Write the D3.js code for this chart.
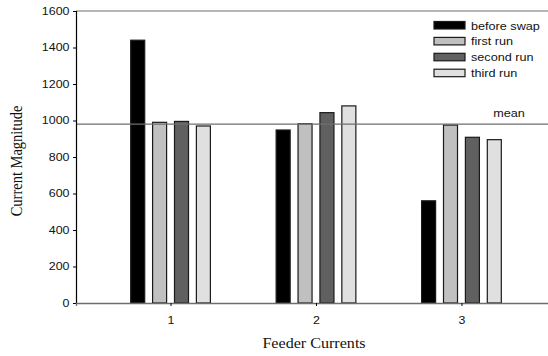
<!DOCTYPE html>
<html>
<head>
<meta charset="utf-8">
<script src="https://cdn.jsdelivr.net/npm/d3@7/dist/d3.min.js"></script>
<style>
  html, body { margin: 0; padding: 0; background: #fff; }
  svg { display: block; }
</style>
</head>
<body>
<svg id="chart" width="548" height="356"></svg>
<script>
// Feeder current magnitudes before and after phase swapping
const feeders = [1, 2, 3];
const series = ["before swap", "first run", "second run", "third run"];
const beforeSwap = [1440, 948, 560];
const firstRun   = [990, 982, 975];
const secondRun  = [995, 1043, 908];
const thirdRun   = [970, 1080, 895];
const meanValue  = 980;
const yTicks = [0, 200, 400, 600, 800, 1000, 1200, 1400, 1600];
const seriesColors = ["#000000", "#c0c0c0", "#606060", "#e0e0e0"];

const values = [beforeSwap, firstRun, secondRun, thirdRun];

const SANS = "Liberation Sans, Arial, sans-serif";
const SERIF = "Liberation Serif, Times New Roman, serif";
const WIDEN = 1.15; // glyphs are drawn slightly wide

const svg = d3.select("#chart");
const margin = { left: 76, top: 11, right: -8, bottom: 53 };
const W = 548, H = 356;
const x0 = margin.left, x1 = W - margin.right;
const y0 = H - margin.bottom, y1 = margin.top;

const x = d3.scaleLinear().domain([0.35, 3.65]).range([x0, x1]);
const y = d3.scaleLinear().domain([0, 1600]).range([y0, y1]);
const xSub = d3.scaleBand().domain(series).range([-43.8, 43.8])
  .paddingInner(0.36).paddingOuter(0.18);

function label(tx, ty, str, opts) {
  const o = Object.assign({ anchor: "start", size: 11, family: SANS, rotate: 0 }, opts);
  return svg.append("text")
    .attr("transform", `translate(${tx},${ty}) rotate(${o.rotate}) scale(${o.rotate ? 1 : WIDEN},${o.rotate ? WIDEN : 1})`)
    .attr("text-anchor", o.anchor)
    .attr("font-family", o.family)
    .attr("font-size", o.size)
    .attr("fill", "#111")
    .text(str);
}

// frame: top border
svg.append("line")
  .attr("x1", x0).attr("x2", x1).attr("y1", y1).attr("y2", y1)
  .attr("stroke", "#6e6e6e").attr("stroke-width", 1.2);

// bars
series.forEach((s, si) => {
  svg.append("g").selectAll("rect")
    .data(feeders.map((f, i) => ({ f, v: values[si][i] })))
    .join("rect")
    .attr("x", d => x(d.f) + xSub(s))
    .attr("width", xSub.bandwidth())
    .attr("y", d => y(d.v))
    .attr("height", d => y(0) - y(d.v))
    .attr("fill", seriesColors[si])
    .attr("stroke", "#1a1a1a")
    .attr("stroke-width", 1.2);
});

// mean line
svg.append("line")
  .attr("x1", x0).attr("x2", x1)
  .attr("y1", y(meanValue)).attr("y2", y(meanValue))
  .attr("stroke", "#6e6e6e").attr("stroke-width", 1.3);
label(509, y(meanValue) - 7, "mean", { anchor: "middle" });

// y axis
const yAxis = svg.append("g")
  .attr("transform", `translate(${x0},0)`)
  .call(d3.axisLeft(y).tickValues(yTicks).tickSize(3).tickPadding(2.7).tickFormat(d3.format("d")));
yAxis.select(".domain").attr("stroke", "#000").attr("stroke-width", 1.2);
yAxis.selectAll(".tick line").attr("stroke", "#000");
yAxis.selectAll("text")
  .attr("font-family", SANS)
  .attr("font-size", 10.8).attr("fill", "#111")
  .attr("transform", `scale(${WIDEN},1)`);

// x axis
const xAxis = svg.append("g")
  .attr("transform", `translate(0,${y0})`)
  .call(d3.axisBottom(x).tickValues(feeders).tickSize(3).tickPadding(10).tickFormat(d3.format("d")));
xAxis.select(".domain").attr("stroke", "#6e6e6e").attr("stroke-width", 1.3);
xAxis.selectAll(".tick line").attr("stroke", "#000");
xAxis.selectAll("text")
  .attr("font-family", SANS)
  .attr("font-size", 10.8).attr("fill", "#111")
  .attr("transform", `scale(${WIDEN},1)`);

// axis titles
label(314, 348, "Feeder Currents", { anchor: "middle", size: 14, family: SERIF });
label(22, 161, "Current Magnitude", { anchor: "middle", size: 14.5, family: SERIF, rotate: -90 });

// legend
const legend = svg.append("g").attr("transform", "translate(434,21.5)");
series.forEach((s, i) => {
  legend.append("rect")
    .attr("y", i * 15.9)
    .attr("width", 31).attr("height", 7.5)
    .attr("fill", seriesColors[i])
    .attr("stroke", "#1a1a1a").attr("stroke-width", 1.2);
  label(471, 21.5 + i * 15.9 + 8, s);
});
</script>
</body>
</html>
